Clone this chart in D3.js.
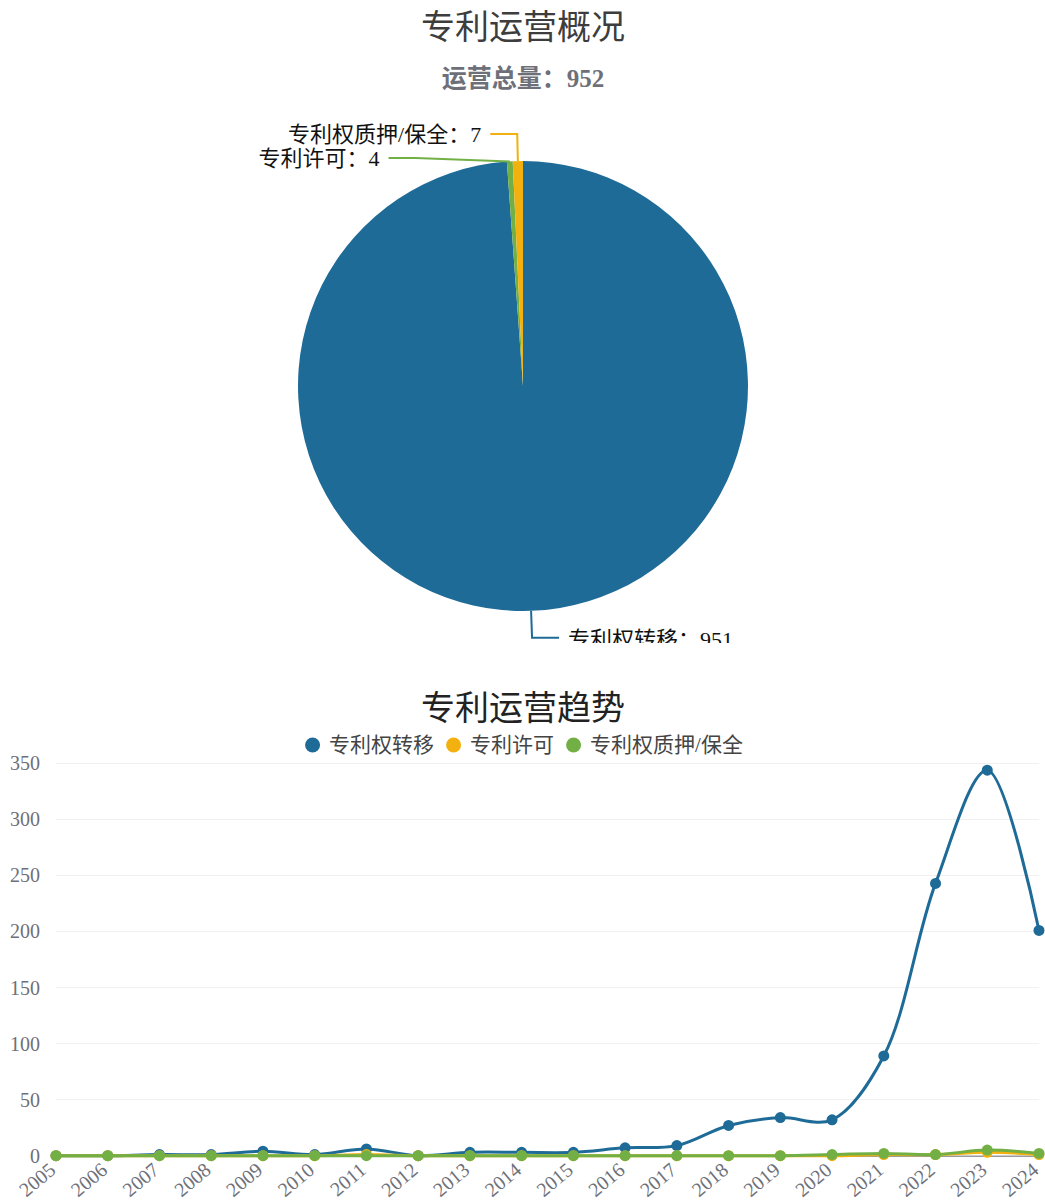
<!DOCTYPE html>
<html>
<head>
<meta charset="utf-8">
<script src="https://cdn.jsdelivr.net/npm/d3@7/dist/d3.min.js"></script>
<style>
  html, body { margin: 0; padding: 0; background: #fff; }
  svg { display: block; font-family: "Liberation Serif", "Noto Sans CJK SC", serif; }
</style>
</head>
<body>
<svg id="chart" width="1045" height="1203"></svg>
<script>
// ---- pie: operation overview ----
const pieTitle = '专利运营概况';
const pieSubtitle = '运营总量：952';
const pieNames = ['专利权转移', '专利许可', '专利权质押/保全'];
const pieValues = [951, 4, 7];
const pieColors = ['#1f6b97', '#72b045', '#f2b10f'];

// ---- line: yearly trend ----
const lineTitle = '专利运营趋势';
const years = ['2005','2006','2007','2008','2009','2010','2011','2012','2013','2014',
               '2015','2016','2017','2018','2019','2020','2021','2022','2023','2024'];
const seriesNames = ['专利权转移', '专利许可', '专利权质押/保全'];
const transferValues = [0, 0, 1, 1, 4, 1, 6, 0, 3, 3, 3, 7, 9, 27, 34, 32, 89, 243, 344, 201];
const licenseValues  = [0, 0, 0, 0, 0, 0, 1, 0, 0, 0, 0, 0, 0, 0, 0, 0, 1, 1, 3, 1];
const pledgeValues   = [0, 0, 0, 0, 0, 0, 0, 0, 0, 0, 0, 0, 0, 0, 0, 1, 2, 1, 5, 2];
const lineColors = ['#1f6b97', '#f2b10f', '#72b045'];
const yTicks = [0, 50, 100, 150, 200, 250, 300, 350];

const svg = d3.select('#chart');

// ================= pie chart =================
svg.append('defs').append('clipPath').attr('id', 'pieClip')
  .append('rect').attr('x', 0).attr('y', 0).attr('width', 1045).attr('height', 643);

const pieG = svg.append('g').attr('clip-path', 'url(#pieClip)');

pieG.append('text').attr('x', 523).attr('y', 27)
  .attr('text-anchor', 'middle').attr('dominant-baseline', 'central')
  .attr('font-size', 34).attr('fill', '#3d3d3d').text(pieTitle);
pieG.append('text').attr('x', 523).attr('y', 78)
  .attr('text-anchor', 'middle').attr('dominant-baseline', 'central')
  .attr('font-size', 25).attr('font-weight', 'bold').attr('fill', '#6e7079').text(pieSubtitle);

const cx = 523, cy = 386, radius = 225;
const len1 = 27, len2 = 27;
const pieData = pieNames.map((n, i) => ({ name: n, value: pieValues[i], color: pieColors[i] }));
const arcs = d3.pie().sort(null).value(d => d.value)(pieData);
const arcGen = d3.arc().innerRadius(0).outerRadius(radius);

const slices = pieG.append('g').attr('transform', `translate(${cx},${cy})`);
slices.selectAll('path').data(arcs).join('path')
  .attr('d', arcGen).attr('fill', d => d.data.color);

// label layout: radial segment, then horizontal segment; labels on a side are
// kept at least one line apart and slid along the outer circle when moved
const R2 = radius + len1;
const labels = arcs.map(a => {
  const m = (a.startAngle + a.endAngle) / 2;
  const s = Math.sin(m), c = -Math.cos(m);
  return {
    a, side: s < 0 ? -1 : 1,
    p0: [cx + radius * s, cy + radius * c],
    ex: cx + R2 * s, ey: cy + R2 * c
  };
});
const minGap = 24;
[-1, 1].forEach(side => {
  const group = labels.filter(l => l.side === side).sort((p, q) => p.ey - q.ey);
  for (let i = 1; i < group.length; i++) {
    if (group[i].ey - group[i - 1].ey < minGap) {
      group[i].ey = group[i - 1].ey + minGap;
      const dy = group[i].ey - cy;
      group[i].ex = cx + side * Math.sqrt(Math.max(0, R2 * R2 - dy * dy));
    }
  }
});
labels.forEach(l => {
  const endX = l.ex + l.side * len2;
  pieG.append('polyline')
    .attr('points', [l.p0, [l.ex, l.ey], [endX, l.ey]].map(p => p.join(',')).join(' '))
    .attr('fill', 'none').attr('stroke', l.a.data.color).attr('stroke-width', 2);
  pieG.append('text')
    .attr('x', endX + l.side * 9).attr('y', l.ey + (l.side > 0 ? 2 : 0))
    .attr('text-anchor', l.side < 0 ? 'end' : 'start')
    .attr('dominant-baseline', 'central')
    .attr('font-size', 22).attr('fill', '#111')
    .text(`${l.a.data.name}：${l.a.data.value}`);
});

// ================= line chart =================
svg.append('text').attr('x', 523).attr('y', 708)
  .attr('text-anchor', 'middle').attr('dominant-baseline', 'central')
  .attr('font-size', 34).attr('fill', '#222').text(lineTitle);

// legend
const legend = svg.append('g');
let lx = 0;
seriesNames.forEach((n, i) => {
  legend.append('circle').attr('cx', lx + 7.5).attr('cy', 0).attr('r', 7.5).attr('fill', lineColors[i]);
  const t = legend.append('text').attr('x', lx + 24).attr('y', 0)
    .attr('dominant-baseline', 'central').attr('font-size', 21).attr('fill', '#444').text(n);
  lx += 24 + t.node().getComputedTextLength() + 12;
});
lx -= 12;
legend.attr('transform', `translate(${524 - lx / 2},745)`);

const x = d3.scalePoint().domain(years).range([56, 1039]);
const y = d3.scaleLinear().domain([0, 350]).range([1155.7, 763.5]);

// grid lines
svg.append('g').selectAll('line').data(yTicks).join('line')
  .attr('x1', 56).attr('x2', 1039)
  .attr('y1', d => y(d)).attr('y2', d => y(d))
  .attr('stroke', '#f0f0f0').attr('stroke-width', 1);

// y axis labels
const yAxis = svg.append('g').attr('transform', 'translate(48,0)')
  .call(d3.axisLeft(y).tickValues(yTicks).tickSize(0).tickPadding(8));
yAxis.select('.domain').remove();
yAxis.selectAll('text').attr('font-size', 20).attr('fill', '#6e7079')
  .attr('font-family', '"Liberation Serif", serif');

// x axis with slanted year labels
const xAxis = svg.append('g').attr('transform', `translate(0,${y(0)})`)
  .call(d3.axisBottom(x).tickSize(0).tickPadding(0));
xAxis.select('.domain').attr('stroke', '#6e7079');
xAxis.selectAll('text')
  .attr('x', 0).attr('y', 0).attr('dy', null)
  .attr('font-size', 20).attr('fill', '#6e7079')
  .attr('font-family', '"Liberation Serif", serif')
  .attr('text-anchor', 'end')
  .attr('dominant-baseline', 'central')
  .attr('transform', 'translate(-4,11) rotate(-40)');

const seriesValues = [transferValues, licenseValues, pledgeValues];
const line = d3.line()
  .x((d, i) => x(years[i]))
  .y(d => y(d))
  .curve(d3.curveCatmullRom.alpha(0.5));

seriesValues.forEach((vals, si) => {
  const g = svg.append('g');
  g.append('path').datum(vals).attr('d', line)
    .attr('fill', 'none').attr('stroke', lineColors[si]).attr('stroke-width', 3);
  g.selectAll('circle').data(vals).join('circle')
    .attr('cx', (d, i) => x(years[i])).attr('cy', d => y(d))
    .attr('r', 5.5).attr('fill', lineColors[si]);
});
</script>
</body>
</html>
